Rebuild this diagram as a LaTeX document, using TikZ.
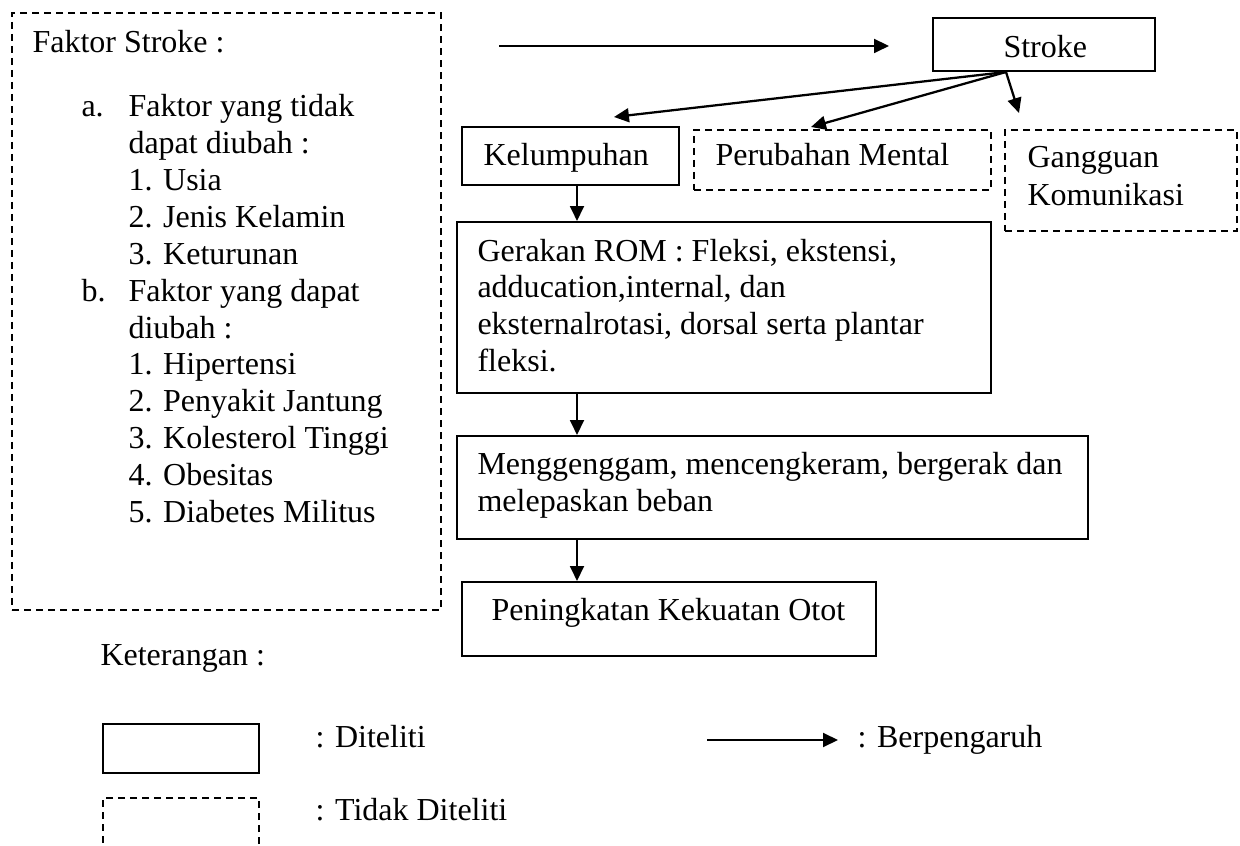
\documentclass[tikz,border=0pt]{standalone}
\usepackage{fontspec}
\setmainfont{Liberation Serif}
\usetikzlibrary{arrows.meta,fit}
\begin{document}
\begin{tikzpicture}[x=0.375pt,y=-0.375pt,
  solidbox/.style={draw,line width=0.75pt,inner sep=0pt},
  dashbox/.style={draw,line width=0.65pt,inner sep=0pt,dash pattern=on 2.7pt off 1.8pt},
  txt/.style={anchor=base west,inner sep=0pt,font=\fontsize{12pt}{13.875pt}\selectfont},
  arr/.style={line width=0.85pt,-{Triangle[length=5.6pt,width=5.2pt]}}]
\useasboundingbox (0,0) rectangle (1240,846);
\clip (0,0) rectangle (1240,846);
% left factor box
\node[dashbox,fit={(12,13) (441,610)}] (faktor) {};
\node[txt] (t0) at (32,53) {Faktor Stroke :};
\node[txt] (ta) at (81,117) {a.};
\node[txt] (ta1) at (128,117) {Faktor yang tidak};
\node[txt] (ta2) at (128,154) {dapat diubah :};
\node[txt] (ta3) at (128,191) {1. Usia};
\node[txt] (ta4) at (128,228) {2. Jenis Kelamin};
\node[txt] (ta5) at (128,265) {3. Keturunan};
\node[txt] (tb) at (81,302) {b.};
\node[txt] (tb1) at (128,302) {Faktor yang dapat};
\node[txt] (tb2) at (128,339) {diubah :};
\node[txt] (tb3) at (128,375) {1. Hipertensi};
\node[txt] (tb4) at (128,412) {2. Penyakit Jantung};
\node[txt] (tb5) at (128,449) {3. Kolesterol Tinggi};
\node[txt] (tb6) at (128,486) {4. Obesitas};
\node[txt] (tb7) at (128,523) {5. Diabetes Militus};
% stroke
\node[solidbox,fit={(933,18) (1155,71)}] (stroke) {};
\node[txt] (tstroke) at (1003,58) {Stroke};
\coordinate (fstart) at (499,46);
\coordinate (fend) at (889,46);
\draw[arr] (fstart) -- (fend);
% consequences
\node[solidbox,fit={(462,127) (679,185)}] (kel) {};
\node[txt] (tkel) at (483,166) {Kelumpuhan};
\node[dashbox,fit={(694,130) (991,190)}] (mental) {};
\node[txt] (tmental) at (715,166) {Perubahan Mental};
\node[dashbox,fit={(1005,130) (1237,231)}] (kom) {};
\node[txt] (tkom1) at (1027,168) {Gangguan};
\node[txt] (tkom2) at (1027,206) {Komunikasi};
\coordinate (s0) at (1006,72);
\coordinate (ekel) at (614,117);
\coordinate (emen) at (811,127);
\coordinate (ekom) at (1019,113);
\draw[arr] (s0) -- (ekel);
\draw[arr] (s0) -- (emen);
\draw[arr] (s0) -- (ekom);
% chain
\node[solidbox,fit={(457,222) (991,393)}] (rom) {};
\node[txt] (tr1) at (477,262) {Gerakan ROM : Fleksi, ekstensi,};
\node[txt] (tr2) at (477,298) {adducation,internal, dan};
\node[txt] (tr3) at (477,335) {eksternalrotasi, dorsal serta plantar};
\node[txt] (tr4) at (477,372) {fleksi.};
\node[solidbox,fit={(457,436) (1088,539)}] (gen) {};
\node[txt] (tg1) at (477,475) {Menggenggam, mencengkeram, bergerak dan};
\node[txt] (tg2) at (477,512) {melepaskan beban};
\node[solidbox,fit={(462,582) (876,656)}] (otot) {};
\node[txt] (tot) at (491,621) {Peningkatan Kekuatan Otot};
\coordinate (ax) at (577,0);
\draw[arr] (kel.south -| ax) -- (rom.north -| ax);
\draw[arr] (rom.south -| ax) -- (gen.north -| ax);
\draw[arr] (gen.south -| ax) -- (otot.north -| ax);
% legend
\node[txt] (ket) at (100,666) {Keterangan :};
\node[solidbox,fit={(103,724) (259,773)}] (lsolid) {};
\node[txt] (tls) at (315,747) {: Diteliti};
\node[dashbox,fit={(103,798) (259,880)}] (ldash) {};
\node[txt] (tld) at (315,820) {: Tidak Diteliti};
\coordinate (la) at (707,740);
\coordinate (lb) at (838,740);
\draw[arr] (la) -- (lb);
\node[txt] (tla) at (857,747) {: Berpengaruh};
\end{tikzpicture}
\end{document}
